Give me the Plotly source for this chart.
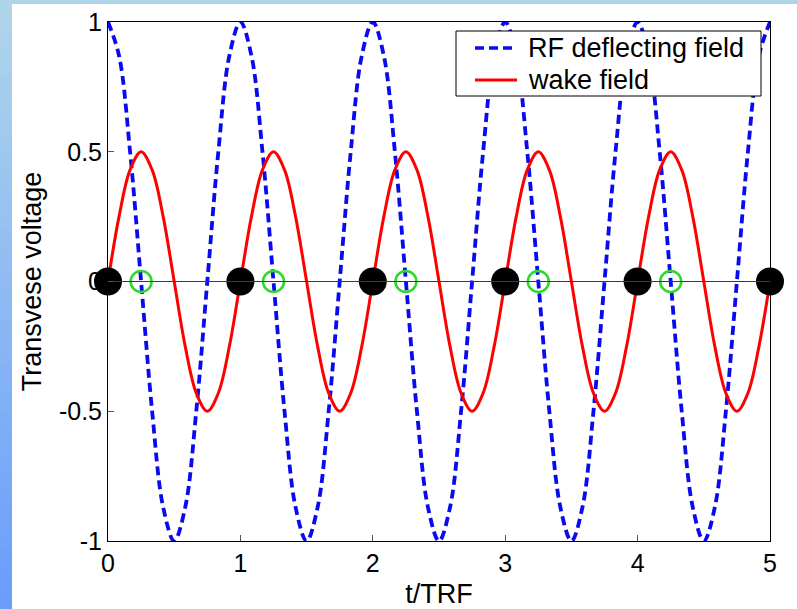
import plotly.graph_objects as go

# ---- data ----
t = [i / 12 for i in range(61)]
rf_field = [1, 0.87, 0.5, 0, -0.5, -0.87, -1, -0.87, -0.5, 0, 0.5, 0.87,
            1, 0.87, 0.5, 0, -0.5, -0.87, -1, -0.87, -0.5, 0, 0.5, 0.87,
            1, 0.87, 0.5, 0, -0.5, -0.87, -1, -0.87, -0.5, 0, 0.5, 0.87,
            1, 0.87, 0.5, 0, -0.5, -0.87, -1, -0.87, -0.5, 0, 0.5, 0.87,
            1, 0.87, 0.5, 0, -0.5, -0.87, -1, -0.87, -0.5, 0, 0.5, 0.87,
            1]
wake_field = [0, 0.25, 0.43, 0.5, 0.43, 0.25, 0, -0.25, -0.43, -0.5, -0.43, -0.25,
              0, 0.25, 0.43, 0.5, 0.43, 0.25, 0, -0.25, -0.43, -0.5, -0.43, -0.25,
              0, 0.25, 0.43, 0.5, 0.43, 0.25, 0, -0.25, -0.43, -0.5, -0.43, -0.25,
              0, 0.25, 0.43, 0.5, 0.43, 0.25, 0, -0.25, -0.43, -0.5, -0.43, -0.25,
              0, 0.25, 0.43, 0.5, 0.43, 0.25, 0, -0.25, -0.43, -0.5, -0.43, -0.25,
              0]
bunch_t = [0, 1, 2, 3, 4, 5]
bunch_v = [0, 0, 0, 0, 0, 0]
witness_t = [0.25, 1.25, 2.25, 3.25, 4.25]
witness_v = [0, 0, 0, 0, 0]
axis_t = [0, 5]
axis_v = [0, 0]
x_ticks = [0, 1, 2, 3, 4, 5]
y_ticks = [-1, -0.5, 0, 0.5, 1]
y_tick_text = ["-1", "-0.5", "0", "0.5", "1"]
legend_names = ["RF deflecting field", "wake field"]

FONT = "Liberation Sans, Arial, sans-serif"
RF_COLOR = "#0a0af0"
RF_DASH = "9px,5px"
WAKE_COLOR = "#ff0000"

fig = go.Figure()
fig.add_trace(go.Scatter(x=t, y=rf_field, mode="lines", name=legend_names[0], showlegend=False,
                         line=dict(color=RF_COLOR, width=3.8, dash=RF_DASH, shape="spline", smoothing=1.0)))
fig.add_trace(go.Scatter(x=t, y=wake_field, mode="lines", name=legend_names[1], showlegend=False,
                         line=dict(color=WAKE_COLOR, width=3, shape="spline", smoothing=1.0)))
fig.add_trace(go.Scatter(x=bunch_t, y=bunch_v, mode="markers", showlegend=False,
                         marker=dict(color="black", size=28, line=dict(width=0)), cliponaxis=False))
fig.add_trace(go.Scatter(x=witness_t, y=witness_v, mode="markers", showlegend=False,
                         marker=dict(symbol="circle-open", color="#2ed82e", size=21, line=dict(width=2.5)),
                         cliponaxis=False))
fig.add_trace(go.Scatter(x=axis_t, y=axis_v, mode="lines", showlegend=False,
                         line=dict(color="#2b2bb0", width=1)))

# layout helpers (pixel -> paper fraction)
L, R, T, B = 108, 770, 22, 541
W, H = R - L, B - T
def fx(px):
    return (px - L) / W
def fy(py):
    return (B - py) / H

shapes = []
# slide background strips
shapes.append(dict(type="rect", xref="paper", yref="paper", x0=fx(0), x1=fx(797), y0=fy(4), y1=fy(0),
                   fillcolor="#acd3e8", line=dict(width=0), layer="below"))
n = 40
c0 = (0xb0, 0xd6, 0xea)
c1 = (0x69, 0x9c, 0xfc)
for i in range(n):
    f = (i + 0.5) / n
    col = "rgb(%d,%d,%d)" % tuple(round(a + (b - a) * f) for a, b in zip(c0, c1))
    y0p = 609 * i / n
    y1p = 609 * (i + 1) / n + 1
    shapes.append(dict(type="rect", xref="paper", yref="paper", x0=fx(0), x1=fx(12),
                       y0=fy(y1p), y1=fy(y0p), fillcolor=col, line=dict(width=0), layer="below"))

# legend box drawn like the MATLAB legend
shapes.append(dict(type="rect", xref="paper", yref="paper", x0=fx(456), x1=fx(761), y0=fy(96), y1=fy(31),
                   fillcolor="white", line=dict(color="black", width=1), layer="above"))
shapes.append(dict(type="line", xref="paper", yref="paper", x0=fx(475), x1=fx(517), y0=fy(48), y1=fy(48),
                   line=dict(color=RF_COLOR, width=3.5, dash=RF_DASH), layer="above"))
shapes.append(dict(type="line", xref="paper", yref="paper", x0=fx(475), x1=fx(517), y0=fy(80), y1=fy(80),
                   line=dict(color=WAKE_COLOR, width=3), layer="above"))
annotations = [
    dict(xref="paper", yref="paper", x=fx(526), y=fy(48), text=legend_names[0], showarrow=False,
         xanchor="left", yanchor="middle", font=dict(family=FONT, size=27, color="black")),
    dict(xref="paper", yref="paper", x=fx(526), y=fy(80), text=legend_names[1], showarrow=False,
         xanchor="left", yanchor="middle", font=dict(family=FONT, size=27, color="black")),
]

fig.update_layout(
    width=797, height=609,
    margin=dict(l=L, r=797 - R, t=T, b=609 - B, autoexpand=False),
    paper_bgcolor="white", plot_bgcolor="white",
    font=dict(family=FONT, size=27, color="black"),
    shapes=shapes,
    annotations=annotations,
    showlegend=False,
    xaxis=dict(range=[0, 5], tickvals=x_ticks, ticks="inside", ticklen=6, tickcolor="#555",
               showline=True, linecolor="black", linewidth=1, mirror=True, showgrid=False, zeroline=False,
               automargin=False,
               tickfont=dict(size=25), title=dict(text="t/TRF", font=dict(size=27), standoff=10)),
    yaxis=dict(range=[-1, 1], tickvals=y_ticks, ticktext=y_tick_text, ticks="inside", ticklen=6,
               tickcolor="#555", showline=True, linecolor="black", linewidth=1, mirror=True,
               showgrid=False, zeroline=False, automargin=False, tickfont=dict(size=25),
               title=dict(text="Transvese voltage", font=dict(size=27), standoff=9)),
)

fig.write_html("out.html")
